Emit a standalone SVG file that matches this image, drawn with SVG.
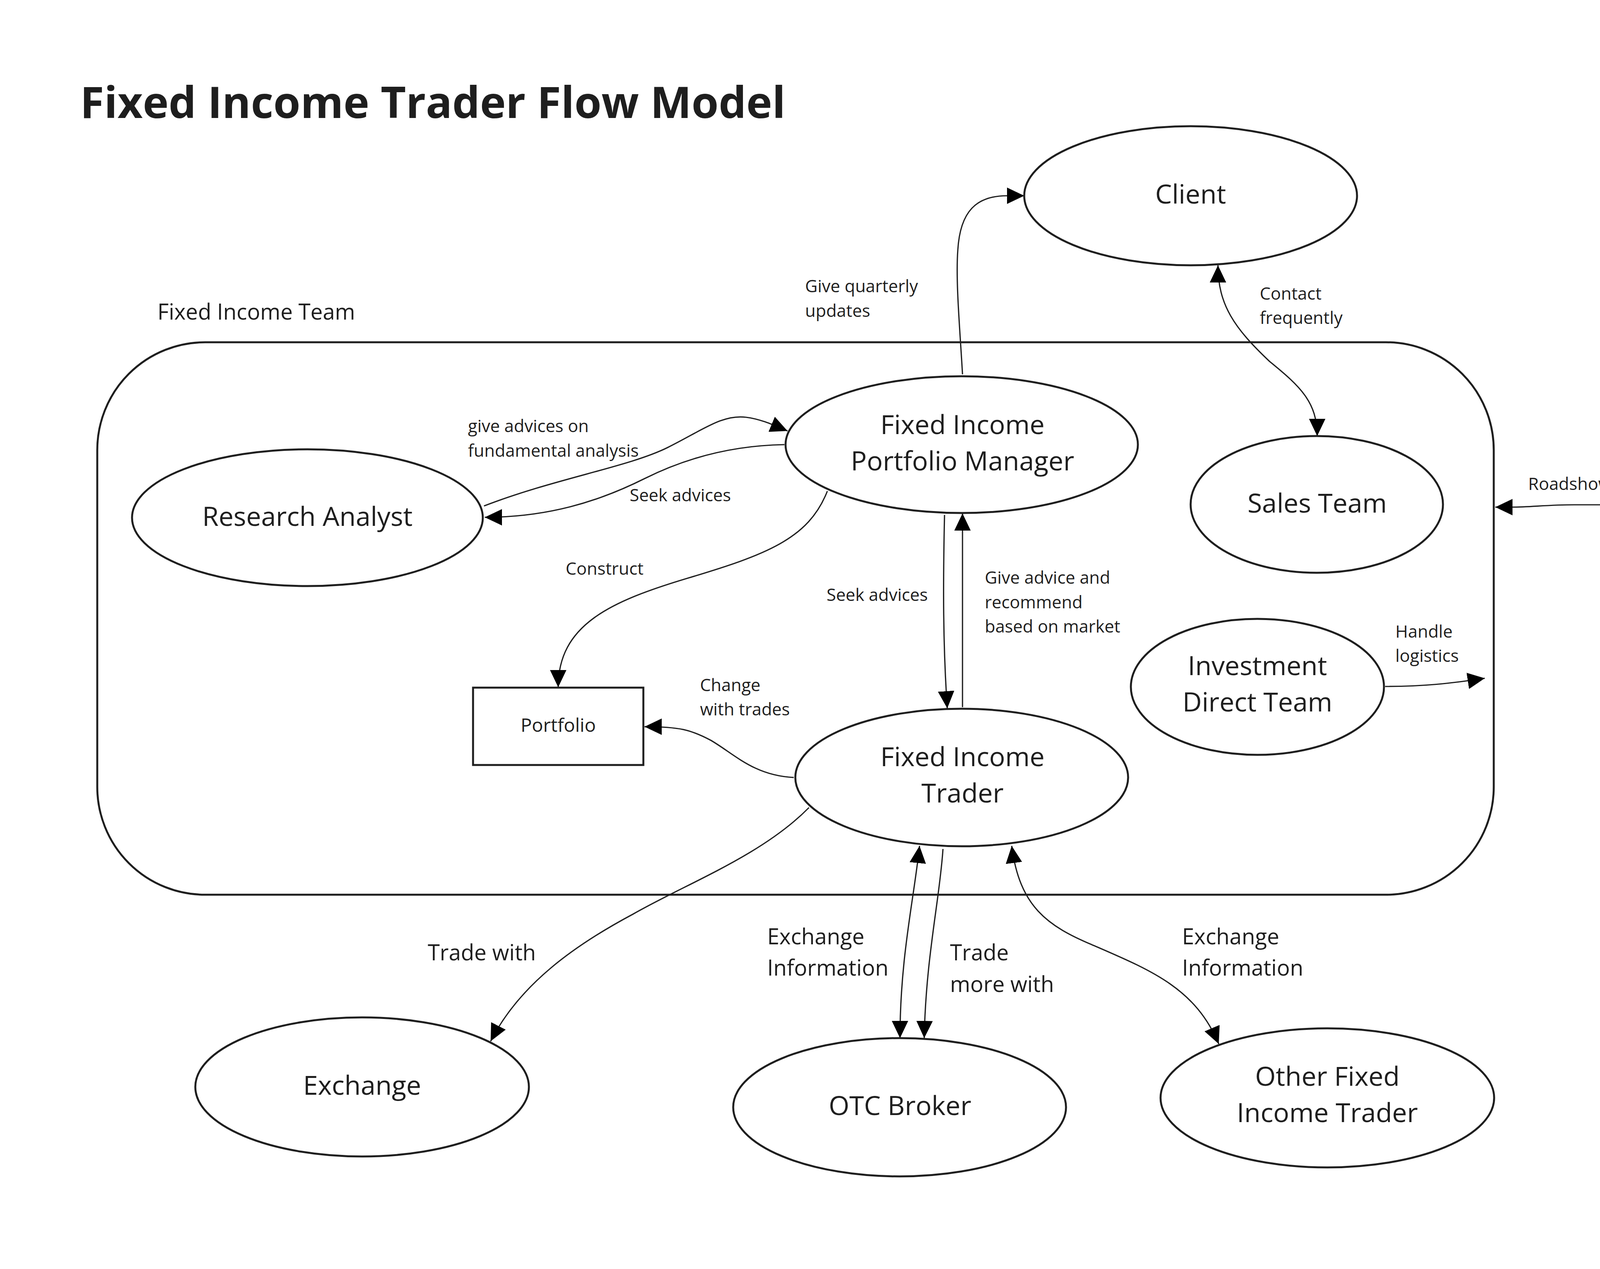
<svg xmlns="http://www.w3.org/2000/svg" width="4924" height="3248" viewBox="0 0 4924 3248">
<defs>
<style>
.node{fill:#ffffff;stroke:#1e1e1e;stroke-width:5}
.team{fill:none;stroke:#1e1e1e;stroke-width:5}
.edge{fill:none;stroke:#1e1e1e;stroke-width:3.2}
.nt{font-family:"Open Sans","Liberation Sans",sans-serif;font-size:68px;fill:#1e1e1e;text-anchor:middle}
.sl{font-family:"Open Sans","Liberation Sans",sans-serif;font-size:44px;fill:#1e1e1e}
.ml{font-family:"Open Sans","Liberation Sans",sans-serif;font-size:56px;fill:#1e1e1e}
.title{font-family:"Open Sans","Liberation Sans",sans-serif;font-size:112px;font-weight:700;fill:#1e1e1e}
</style>
<marker id="ah" markerWidth="44" markerHeight="42" refX="44" refY="21" orient="auto-start-reverse" markerUnits="userSpaceOnUse">
<path d="M0,0 L44,21 L0,42 z" fill="#000000"/>
</marker>
</defs>
<rect x="0" y="0" width="4924" height="3248" fill="#ffffff"/>

<text class="title" x="205" y="302">Fixed Income Trader Flow Model</text>

<g id="fixed-income-team">
<rect class="team" x="249" y="876" width="3575" height="1414" rx="276" ry="276"/>
<text class="ml" x="403" y="818">Fixed Income Team</text>
</g>

<g id="connectors">
<path class="edge" marker-end="url(#ah)" d="M2464,958 C2458,850 2446,720 2452,640 C2458,540 2500,501 2578,501 L2622,501"/>
<path class="edge" marker-start="url(#ah)" marker-end="url(#ah)" d="M3118,679 C3118,780 3160,840 3250,925 C3330,990 3372,1030 3372,1116"/>
<path class="edge" marker-end="url(#ah)" d="M4153,1292 L4030,1292 C3960,1292 3920,1298 3870,1298 L3828,1298"/>
<path class="edge" marker-end="url(#ah)" d="M3546,1757 C3640,1757 3710,1750 3801,1736"/>
<path class="edge" marker-end="url(#ah)" d="M1239,1295 C1420,1225 1610,1195 1710,1145 C1800,1100 1850,1060 1910,1068 C1950,1073 1985,1090 2016,1103"/>
<path class="edge" marker-end="url(#ah)" d="M2008,1138 C1880,1140 1760,1170 1650,1225 C1530,1285 1400,1324 1241,1324"/>
<path class="edge" marker-end="url(#ah)" d="M2118,1257 C2070,1380 1960,1420 1760,1480 C1560,1540 1429,1600 1429,1759"/>
<path class="edge" marker-end="url(#ah)" d="M2418,1318 C2414,1500 2414,1650 2425,1813"/>
<path class="edge" marker-end="url(#ah)" d="M2464,1810 L2464,1314"/>
<path class="edge" marker-end="url(#ah)" d="M2032,1990 C1930,1985 1880,1930 1820,1895 C1770,1868 1740,1860 1650,1860"/>
<path class="edge" marker-end="url(#ah)" d="M2071,2067 C1950,2190 1760,2260 1620,2340 C1470,2420 1330,2520 1256,2665"/>
<path class="edge" marker-start="url(#ah)" marker-end="url(#ah)" d="M2354,2165 C2340,2300 2304,2450 2304,2657"/>
<path class="edge" marker-end="url(#ah)" d="M2414,2173 C2406,2300 2370,2450 2366,2657"/>
<path class="edge" marker-start="url(#ah)" marker-end="url(#ah)" d="M2590,2165 C2610,2320 2680,2370 2800,2420 C2950,2485 3060,2530 3120,2672"/>

<text class="sl" x="2061" y="748">Give quarterly</text>
<text class="sl" x="2061" y="811">updates</text>
<text class="sl" x="3225" y="767">Contact</text>
<text class="sl" x="3225" y="829">frequently</text>
<text class="sl" x="3912" y="1254">Roadshow</text>
<text class="sl" x="3572" y="1632">Handle</text>
<text class="sl" x="3572" y="1694">logistics</text>
<text class="sl" x="1198" y="1106">give advices on</text>
<text class="sl" x="1198" y="1169">fundamental analysis</text>
<text class="sl" x="1612" y="1283">Seek advices</text>
<text class="sl" x="1448" y="1471">Construct</text>
<text class="sl" x="2116" y="1538">Seek advices</text>
<text class="sl" x="2521" y="1494">Give advice and</text>
<text class="sl" x="2521" y="1557">recommend</text>
<text class="sl" x="2521" y="1619">based on market</text>
<text class="sl" x="1792" y="1769">Change</text>
<text class="sl" x="1792" y="1831">with trades</text>
<text class="ml" x="1095" y="2458">Trade with</text>
<text class="ml" x="1964" y="2417">Exchange</text>
<text class="ml" x="1964" y="2497">Information</text>
<text class="ml" x="2432" y="2458">Trade</text>
<text class="ml" x="2432" y="2539">more with</text>
<text class="ml" x="3026" y="2417">Exchange</text>
<text class="ml" x="3026" y="2497">Information</text>
</g>

<g id="client">
<ellipse class="node" cx="3048" cy="501" rx="426" ry="178"/>
<text class="nt" x="3048" y="521">Client</text>
</g>

<g id="portfolio-manager">
<ellipse class="node" cx="2462" cy="1138" rx="451" ry="175"/>
<text class="nt" x="2464" y="1111">Fixed Income</text>
<text class="nt" x="2464" y="1204">Portfolio Manager</text>
</g>

<g id="research-analyst">
<ellipse class="node" cx="787" cy="1325" rx="449" ry="175"/>
<text class="nt" x="787" y="1346">Research Analyst</text>
</g>

<g id="sales-team">
<ellipse class="node" cx="3371" cy="1291" rx="323" ry="175"/>
<text class="nt" x="3372" y="1312">Sales Team</text>
</g>

<g id="investment-bank">
<ellipse class="node" cx="4480" cy="1291" rx="325" ry="175"/>
<text class="nt" x="4481" y="1264">Investment</text>
<text class="nt" x="4481" y="1357">Bank</text>
</g>

<g id="investment-direct-team">
<ellipse class="node" cx="3219" cy="1758" rx="324" ry="174"/>
<text class="nt" x="3219" y="1728">Investment</text>
<text class="nt" x="3219" y="1821">Direct Team</text>
</g>

<g id="portfolio">
<rect class="node" x="1211" y="1760" width="436" height="198"/>
<text class="nt" style="font-size:48px" x="1429" y="1873">Portfolio</text>
</g>

<g id="fixed-income-trader">
<ellipse class="node" cx="2462" cy="1990" rx="426" ry="176"/>
<text class="nt" x="2464" y="1961">Fixed Income</text>
<text class="nt" x="2464" y="2054">Trader</text>
</g>

<g id="exchange">
<ellipse class="node" cx="927" cy="2782" rx="427" ry="178"/>
<text class="nt" x="927" y="2802">Exchange</text>
</g>

<g id="otc-broker">
<ellipse class="node" cx="2303" cy="2834" rx="426" ry="177"/>
<text class="nt" x="2304" y="2854">OTC Broker</text>
</g>

<g id="other-fixed-income-trader">
<ellipse class="node" cx="3398" cy="2810" rx="427" ry="178"/>
<text class="nt" x="3398" y="2779">Other Fixed</text>
<text class="nt" x="3398" y="2872">Income Trader</text>
</g>
</svg>
